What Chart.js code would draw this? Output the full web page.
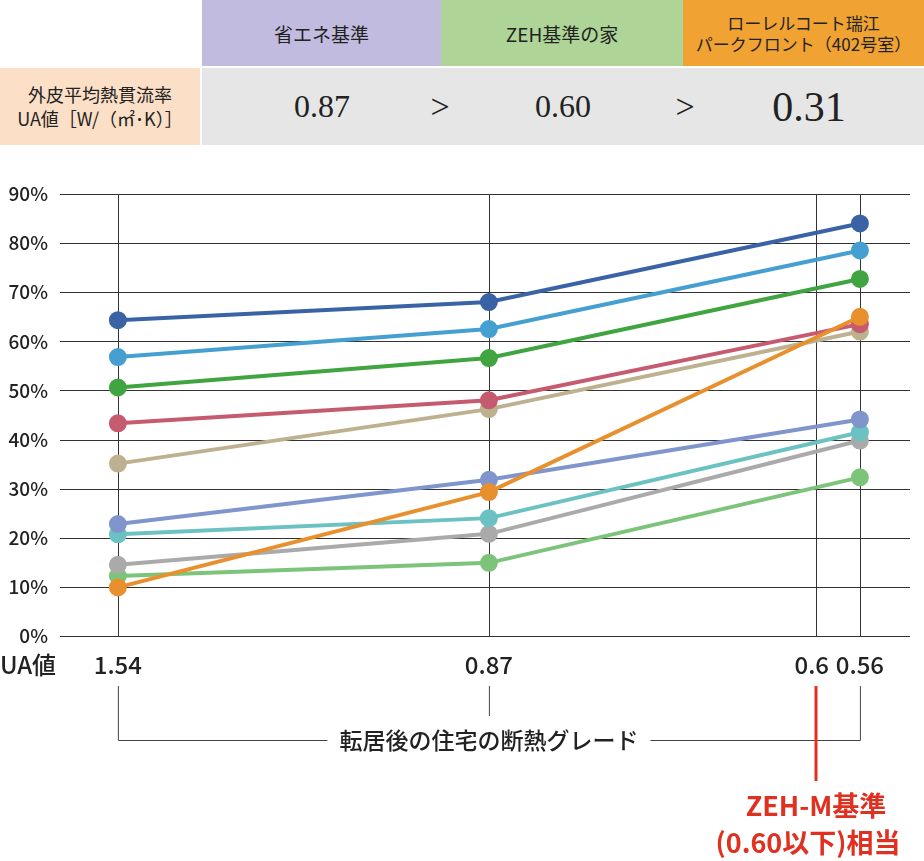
<!DOCTYPE html>
<html><head><meta charset="utf-8">
<script src="https://cdn.jsdelivr.net/npm/chart.js@4/dist/chart.umd.min.js"></script>
<style>
  body { margin:0; width:924px; height:861px; background:#fff; position:relative; overflow:hidden; font-family:"Noto Sans CJK JP", sans-serif; }
  .c { position:absolute; display:flex; align-items:center; justify-content:center; text-align:center; color:#222; }
  .ser { font-family:"Liberation Serif", "Noto Sans CJK JP", serif; }
  #wrap { position:absolute; left:0; top:150px; width:924px; height:711px; }
</style></head><body>
<div class="c" style="left:202px;top:0;width:239px;height:66px;background:#c0bbdf;font-size:19px">省エネ基準</div>
<div class="c" style="left:441px;top:0;width:242px;height:66px;background:#aed597;font-size:19px">ZEH基準の家</div>
<div class="c" style="left:683px;top:0;width:241px;height:66px;background:#f0a232;font-size:17px;line-height:1.25">ローレルコート瑞江<br>パークフロント（402号室）</div>
<div class="c" style="left:0;top:68px;width:200px;height:77px;background:#fbdfc7;font-size:18px;line-height:1.3">外皮平均熱貫流率<br>UA値［W/（㎡･K）］</div>
<div class="c" style="left:202px;top:68px;width:722px;height:77px;background:#e6e6e6"></div>
<div class="c ser" style="left:262px;top:68px;width:120px;height:77px;font-size:32px">0.87</div>
<div class="c ser" style="left:400px;top:68px;width:80px;height:77px;font-size:34px">&gt;</div>
<div class="c ser" style="left:503px;top:68px;width:120px;height:77px;font-size:32px">0.60</div>
<div class="c ser" style="left:645px;top:68px;width:80px;height:77px;font-size:34px">&gt;</div>
<div class="c ser" style="left:744px;top:68px;width:130px;height:77px;font-size:42px">0.31</div>
<div id="wrap"><canvas id="ch"></canvas></div>
<script>
var xPos = [0, 1, 2];               // 1.54, 0.87, 0.56
var xLabels = ['1.54', '0.87', '0.56'];
var yTicks = [0, 10, 20, 30, 40, 50, 60, 70, 80, 90];
var zehPos = 1.881;                 // 0.6

var s1 = [64.3, 68.0, 84.0];
var s2 = [56.8, 62.5, 78.5];
var s3 = [50.6, 56.6, 72.7];
var s4 = [43.3, 48.0, 63.5];
var s5 = [35.1, 46.2, 62.0];
var s6 = [22.8, 31.8, 44.1];
var s7 = [20.7, 24.0, 41.5];
var s8 = [14.5, 20.8, 39.8];
var s9 = [9.9, 29.3, 65.0];
var s10 = [12.2, 14.9, 32.3];

var colors = ['#3a63a6', '#45a0d1', '#40a540', '#c65b70', '#bdb18f', '#7f95cc', '#6cc2c2', '#aaaaaa', '#e8902d', '#7cc47a'];
var series = [s1, s2, s3, s4, s5, s6, s7, s8, s9, s10];

function pts(a) { return a.map(function (v, i) { return { x: xPos[i], y: v }; }); }

var datasets = series.map(function (s, i) {
  return { data: pts(s), borderColor: colors[i], backgroundColor: colors[i], borderWidth: 4, pointRadius: 7, pointHoverRadius: 7, tension: 0, order: s === s9 ? -1 : 0 };
});

var decor = {
  id: 'decor',
  beforeDatasetsDraw: function (chart) {
    var c = chart.ctx, xs = chart.scales.x, ys = chart.scales.y, a = chart.chartArea;
    c.save();
    c.strokeStyle = '#333'; c.lineWidth = 1;
    yTicks.forEach(function (t) {
      var y = Math.round(ys.getPixelForValue(t)) + 0.5;
      c.beginPath(); c.moveTo(a.left, y); c.lineTo(a.right, y); c.stroke();
    });
    xPos.concat([zehPos]).forEach(function (v) {
      var x = Math.round(xs.getPixelForValue(v)) + 0.5;
      c.beginPath(); c.moveTo(x, a.top); c.lineTo(x, a.bottom); c.stroke();
    });
    c.restore();
  },
  afterDraw: function (chart) {
    var c = chart.ctx, xs = chart.scales.x, ys = chart.scales.y, a = chart.chartArea;
    c.save();
    c.fillStyle = '#222';
    c.font = '500 19px "Noto Sans CJK JP"';
    c.textAlign = 'right'; c.textBaseline = 'middle';
    yTicks.forEach(function (t) { c.fillText(t + '%', 48, ys.getPixelForValue(t)); });
    c.font = '500 24px "Noto Sans CJK JP"';
    c.textAlign = 'center';
    var ly = a.bottom + 29;
    xPos.forEach(function (v, i) { c.fillText(xLabels[i], xs.getPixelForValue(v), ly); });
    c.fillText('0.6', xs.getPixelForValue(zehPos) - 4, ly);
    c.textAlign = 'left';
    c.fillText('UA値', 0, ly);
    // bracket
    var x0 = xs.getPixelForValue(0), x1 = xs.getPixelForValue(1), x2 = xs.getPixelForValue(2);
    var top = a.bottom + 50, by = a.bottom + 104;
    c.strokeStyle = '#444'; c.lineWidth = 1;
    c.beginPath();
    c.moveTo(x0 + 0.5, top); c.lineTo(x0 + 0.5, by + 0.5); c.lineTo(x2 + 0.5, by + 0.5); c.lineTo(x2 + 0.5, top);
    c.moveTo(x1 + 0.5, top); c.lineTo(x1 + 0.5, top + 30);
    c.stroke();
    c.font = '500 23px "Noto Sans CJK JP"';
    c.textAlign = 'center';
    var t = '転居後の住宅の断熱グレード', w = c.measureText(t).width + 24;
    c.fillStyle = '#fff'; c.fillRect(x1 - w / 2, by - 16, w, 32);
    c.fillStyle = '#222'; c.fillText(t, x1, by);
    // ZEH-M marker
    var xz = Math.round(xs.getPixelForValue(zehPos));
    c.strokeStyle = '#e03020'; c.lineWidth = 3;
    c.beginPath(); c.moveTo(xz, top); c.lineTo(xz, a.bottom + 145); c.stroke();
    c.fillStyle = '#e03020';
    c.font = 'bold 27px "Noto Sans CJK JP"';
    c.fillText('ZEH-M基準', xz, a.bottom + 170);
    c.fillText('(0.60以下)相当', xz - 8, a.bottom + 207);
    c.restore();
  }
};

new Chart(document.getElementById('ch'), {
  type: 'line',
  data: { datasets: datasets },
  options: {
    responsive: true, maintainAspectRatio: false, animation: false,
    layout: { padding: { left: 60, right: 14, top: 44, bottom: 225 } },
    plugins: { legend: { display: false }, tooltip: { enabled: false } },
    scales: {
      x: { type: 'linear', min: -0.156, max: 2.135, display: false },
      y: { min: 0, max: 90, display: false }
    }
  },
  plugins: [decor]
});
</script>
</body></html>
